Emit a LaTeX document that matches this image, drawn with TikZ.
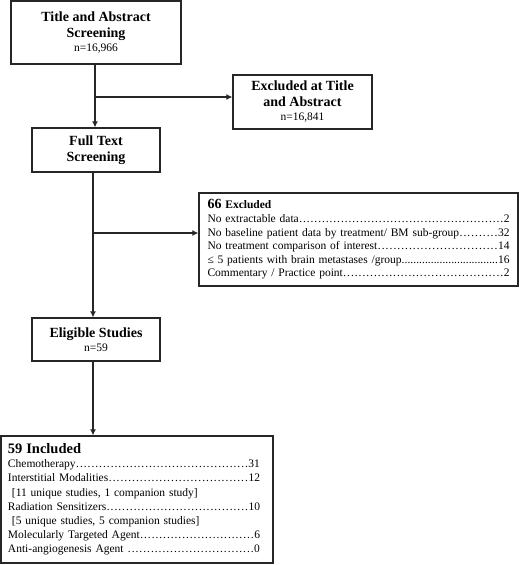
\documentclass[tikz,border=0pt]{standalone}
\usepackage{fontspec}
\setmainfont{Liberation Serif}
\usetikzlibrary{arrows.meta}
\newdimen\lrskip
\newcommand\dleader{\xleaders\hbox to 0.33em{\hss.\hss}\hfill}
\newcommand\dleaderb{\xleaders\hbox to 0.25em{\hss.\hss}\hfill}
\newcommand\lline[2]{{\parindent=0pt\rightskip=\lrskip\parfillskip=0pt #1\dleader #2\par}}
\newcommand\llineb[2]{{\parindent=0pt\rightskip=\lrskip\parfillskip=0pt #1\dleaderb #2\par}}
\newcommand\tline[1]{{\parindent=0pt #1\par}}
\begin{document}
\begin{tikzpicture}[x=1pt,y=-1pt,
  box/.style={draw=black!85, line width=1.3pt, inner sep=0pt, align=center, fill=white},
  headfont/.style={font=\bfseries\fontsize{14}{16}\selectfont},
  listbox/.style={draw=black!85, line width=1.3pt, inner sep=0pt, align=left, fill=white},
  conn/.style={draw=black!85, line width=1.1pt, -{Latex[length=6pt,width=6pt]}}]
\useasboundingbox (0,0) rectangle (521,565);

\node[box, headfont, minimum width=170pt, minimum height=63pt] (tas) at (96,32.5)
  {Title and Abstract\\Screening\\[-2pt]{\normalfont\fontsize{11.5}{13}\selectfont n=16,966}};

\node[box, headfont, minimum width=139pt, minimum height=54pt] (exa) at (302.5,102)
  {Excluded at Title\\and Abstract\\[-2pt]{\normalfont\fontsize{11.5}{13}\selectfont n=16,841}};

\node[box, headfont, minimum width=128pt, minimum height=44pt] (fts) at (96,150)
  {Full Text\\Screening};

\node[listbox, minimum width=319pt, minimum height=93pt, text width=302pt,
  font=\fontsize{11.5}{13.6}\selectfont] (ex66) at (358.5,239.5)
  {\lrskip=0pt
   \tline{\bfseries{\fontsize{14}{14}\selectfont 66} Excluded}%
   \lline{No extractable data}{2}%
   \lline{No baseline patient data by treatment/ BM sub-group}{32}%
   \lline{No treatment comparison of interest}{14}%
   \llineb{≤ 5 patients with brain metastases /group}{16}%
   \lline{Commentary / Practice point}{2}};

\node[box, headfont, minimum width=128pt, minimum height=43pt] (elig) at (96,339.5)
  {Eligible Studies\\[-2pt]{\normalfont\fontsize{11.5}{13}\selectfont n=59}};

\node[listbox, minimum width=272pt, minimum height=127pt, text width=258pt,
  font=\fontsize{11.5}{14.2}\selectfont] (incl) at (137,499.5)
  {\lrskip=6pt
   \tline{\bfseries\fontsize{14.5}{14.5}\selectfont 59 Included}%
   \lline{Chemotherapy}{31}%
   \lline{Interstitial Modalities}{12}%
   \tline{\hspace*{4pt}[11 unique studies, 1 companion study]}%
   \lline{Radiation Sensitizers}{10}%
   \tline{\hspace*{4pt}[5 unique studies, 5 companion studies]}%
   \lline{Molecularly Targeted Agent}{6}%
   \lline{Anti-angiogenesis Agent }{0}};

\coordinate (b1) at (95,97);
\coordinate (b2) at (93,233);
\draw[conn] (tas.south -| b1) -- (b1 |- fts.north);
\draw[conn] (b1) -- (b1 -| exa.west);
\draw[conn] (fts.south -| b2) -- (b2 |- elig.north);
\draw[conn] (b2) -- (b2 -| ex66.west);
\draw[conn] (elig.south -| b2) -- (b2 |- incl.north);
\end{tikzpicture}
\end{document}
